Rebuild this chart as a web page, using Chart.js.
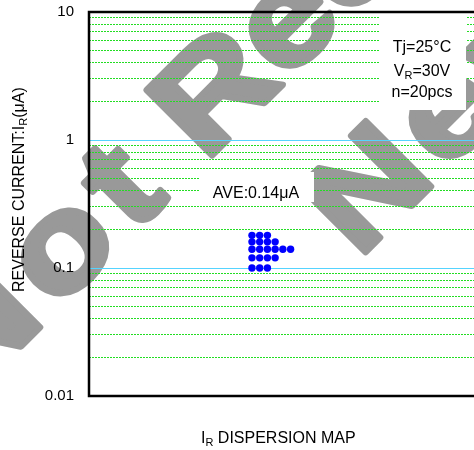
<!DOCTYPE html>
<html>
<head>
<meta charset="utf-8">
<script src="https://cdn.jsdelivr.net/npm/chart.js@4.4.0/dist/chart.umd.min.js"></script>
<style>
  html, body { margin: 0; padding: 0; background: #fff; overflow: hidden; }
  #wrap { position: relative; width: 560px; height: 450px; }
</style>
</head>
<body>
<div id="wrap"><canvas id="myChart" width="560" height="450"></canvas></div>
<script>
// Sample points (20 pcs), column slot and reverse current in uA
const sampleSlot = [1, 2, 3,
                    1, 2, 3, 4,
                    1, 2, 3, 4, 5, 6,
                    1, 2, 3, 4,
                    1, 2, 3];
const sampleCurrent = [0.18, 0.18, 0.18,
                       0.16, 0.16, 0.16, 0.16,
                       0.14, 0.14, 0.14, 0.14, 0.14, 0.14,
                       0.12, 0.12, 0.12, 0.12,
                       0.10, 0.10, 0.10];

// Axis ticks
const yTickLabels = [0.01, 0.1, 1, 10];
const minorGrid = [0.02, 0.03, 0.04, 0.05, 0.06, 0.07, 0.08, 0.09,
                   0.2, 0.3, 0.4, 0.5, 0.6, 0.7, 0.8, 0.9,
                   2, 3, 4, 5, 6, 7, 8, 9];
const majorGrid = [0.1, 1];

const FONT = "'Liberation Sans', Arial, sans-serif";
Chart.defaults.font.family = FONT;
Chart.defaults.color = '#000';

// draw text with subscript pieces, left aligned from x
function drawParts(ctx, parts, x, y, size) {
    let cx = x;
    parts.forEach(function(p) {
        const s = p.sub ? Math.round(size * 0.7) : size;
        ctx.font = s + 'px ' + FONT;
        ctx.fillText(p.t, cx, y + (p.sub ? 3 : 0));
        cx += ctx.measureText(p.t).width;
    });
}

function partsWidth(ctx, parts, size) {
    let w = 0;
    parts.forEach(function(p) {
        const s = p.sub ? Math.round(size * 0.7) : size;
        ctx.font = s + 'px ' + FONT;
        w += ctx.measureText(p.t).width;
    });
    return w;
}

function markText(ctx, text, u, b, spacing) {
    ctx.save();
    ctx.translate(u, b);
    ctx.scale(1.16, 1);
    ctx.letterSpacing = spacing + 'px';
    ctx.fillText(text, 0, 0);
    ctx.strokeText(text, 0, 0);
    ctx.restore();
}

const watermark = {
    id: 'watermark',
    beforeDraw(chart) {
        const ctx = chart.ctx;
        ctx.save();
        ctx.rotate(-Math.PI / 4);
        ctx.fillStyle = '#999999';
        ctx.strokeStyle = '#999999';
        ctx.lineWidth = 6;
        ctx.lineJoin = 'round';
        ctx.font = 'bold 135px ' + FONT;
        ctx.textBaseline = 'alphabetic';
        markText(ctx, 'Not', -306, 260, 11);
        markText(ctx, 'Recommended for', 30, 260, 0);
        markText(ctx, 'New Design', 70, 437, 8);
        ctx.restore();
    }
};

const notes = {
    id: 'notes',
    beforeDatasetsDraw(chart) {
        const ctx = chart.ctx;
        const a = chart.chartArea;
        ctx.save();
        // white boxes behind the notes
        ctx.fillStyle = '#fff';
        ctx.fillRect(199, 172, 115, 30);
        ctx.fillRect(379, 14, 87, 96);

        ctx.fillStyle = '#000';
        ctx.textBaseline = 'alphabetic';
        ctx.textAlign = 'left';

        const ave = [{t: 'AVE:0.14\u03bcA'}];
        drawParts(ctx, ave, 256 - partsWidth(ctx, ave, 16) / 2, 197.5, 16);

        const l1 = [{t: 'Tj=25\u00b0C'}];
        const l2 = [{t: 'V'}, {t: 'R', sub: true}, {t: '=30V'}];
        const l3 = [{t: 'n=20pcs'}];
        drawParts(ctx, l1, 422 - partsWidth(ctx, l1, 16) / 2, 52, 16);
        drawParts(ctx, l2, 422 - partsWidth(ctx, l2, 16) / 2, 76, 16);
        drawParts(ctx, l3, 422 - partsWidth(ctx, l3, 16) / 2, 96.5, 16);

        // x title
        drawParts(ctx, [{t: 'I'}, {t: 'R', sub: true}, {t: ' DISPERSION MAP'}], 201, 443, 16);

        // y title
        ctx.save();
        ctx.translate(23.5, 292);
        ctx.rotate(-Math.PI / 2);
        drawParts(ctx, [{t: 'REVERSE CURRENT:I'}, {t: 'R', sub: true}, {t: '(\u03bcA)'}], 0, 0, 16);
        ctx.restore();

        // frame
        ctx.strokeStyle = '#000';
        ctx.lineWidth = 2.5;
        ctx.strokeRect(a.left, a.top, a.right - a.left, a.bottom - a.top);
        ctx.restore();
    }
};

function gridAxis(values, color, dash) {
    return {
        type: 'logarithmic',
        position: 'right',
        min: 0.01,
        max: 10,
        afterFit: function(scale) {
            scale.width = 0;
            scale.paddingTop = 0;
            scale.paddingBottom = 0;
        },
        afterBuildTicks: function(scale) {
            scale.ticks = values.map(function(v) { return {value: v}; });
        },
        ticks: { display: false },
        grid: { drawTicks: false, lineWidth: 1, color: color },
        border: { display: false, dash: dash }
    };
}

const ctx = document.getElementById('myChart').getContext('2d');
const myChart = new Chart(ctx, {
    type: 'scatter',
    data: {
        datasets: [{
            data: sampleSlot.map(function(s, i) { return {x: s, y: sampleCurrent[i]}; }),
            backgroundColor: '#0000ff',
            borderWidth: 0,
            pointRadius: 3.7
        }]
    },
    options: {
        responsive: false,
        animation: false,
        devicePixelRatio: 1,
        layout: { padding: { top: 12, right: 30, bottom: 54, left: 0 } },
        plugins: {
            legend: { display: false },
            tooltip: { enabled: false }
        },
        scales: {
            x: {
                type: 'linear',
                min: -20.1,
                max: 37,
                display: false
            },
            y: {
                type: 'logarithmic',
                position: 'left',
                min: 0.01,
                max: 10,
                afterFit: function(scale) {
                    scale.width = 89;
                    scale.paddingTop = 0;
                    scale.paddingBottom = 0;
                },
                afterBuildTicks: function(scale) {
                    scale.ticks = yTickLabels.map(function(v) { return {value: v}; });
                },
                ticks: {
                    autoSkip: false,
                    padding: 15,
                    font: { size: 15 },
                    color: '#000',
                    callback: function(v) { return String(v); }
                },
                grid: { display: false, drawTicks: false },
                border: { display: false }
            },
            yMinor: gridAxis(minorGrid, '#22dd22', [2, 1]),
            yMajor: gridAxis(majorGrid, '#55d4ff', [])
        }
    },
    plugins: [watermark, notes]
});
</script>
</body>
</html>
